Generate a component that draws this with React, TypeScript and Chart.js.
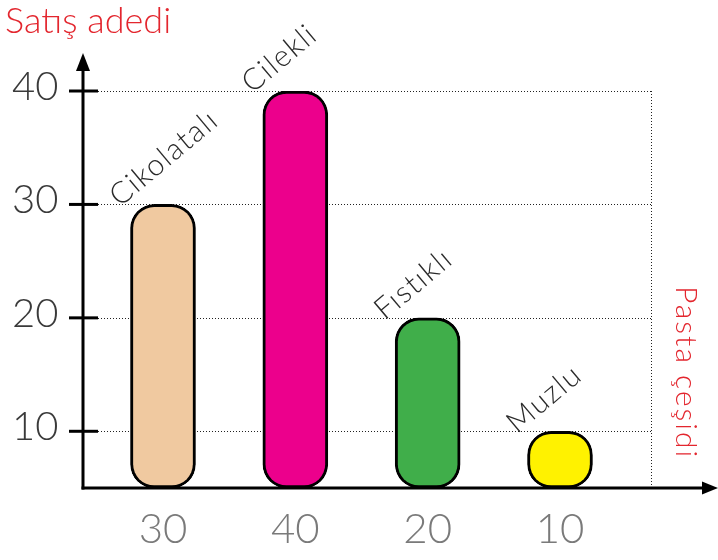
import React, { useEffect, useRef } from "react";
import { Chart, registerables } from "chart.js";

Chart.register(...registerables);

const categories = ["Cikolatalı", "Cilekli", "Fıstıklı", "Muzlu"];
const values = [30, 40, 20, 10];
const handLabels = ["30", "40", "20", "10"];
const barColors = ["#F0C9A0", "#EC008C", "#40AE4A", "#FFF200"];
const yTicks = [10, 20, 30, 40];
const yMin = 5;
const yMax = 40;
const yTitle = "Satış adedi";
const xTitle = "Pasta çeşidi";

const FONT = "Lato, 'Open Sans', sans-serif";
const RED = "#e3262e";

const drawPlugin = {
  id: "drawPlugin",
  beforeDatasetsDraw(chart: any) {
    const { ctx, chartArea, scales } = chart;
    const { left, right, bottom } = chartArea;
    ctx.save();
    ctx.strokeStyle = "#222";
    ctx.lineWidth = 1;
    ctx.setLineDash([1, 2]);
    yTicks.forEach((t) => {
      const y = Math.round(scales.y.getPixelForValue(t)) + 0.5;
      ctx.beginPath();
      ctx.moveTo(left + 15, y);
      ctx.lineTo(right, y);
      ctx.stroke();
    });
    ctx.beginPath();
    ctx.moveTo(right + 0.5, scales.y.getPixelForValue(yMax));
    ctx.lineTo(right + 0.5, bottom);
    ctx.stroke();
    ctx.restore();
  },
  afterDatasetsDraw(chart: any) {
    const { ctx, chartArea, scales } = chart;
    const { left, right, top, bottom } = chartArea;
    ctx.save();
    ctx.setLineDash([]);
    ctx.strokeStyle = "#000";
    ctx.fillStyle = "#000";
    ctx.lineWidth = 3;
    // y axis
    ctx.beginPath();
    ctx.moveTo(left, bottom + 1.5);
    ctx.lineTo(left, top - 24);
    ctx.stroke();
    ctx.beginPath();
    ctx.moveTo(left, top - 38);
    ctx.lineTo(left - 7, top - 20);
    ctx.lineTo(left + 7, top - 20);
    ctx.closePath();
    ctx.fill();
    // x axis
    ctx.beginPath();
    ctx.moveTo(left - 1.5, bottom);
    ctx.lineTo(right + 56, bottom);
    ctx.stroke();
    ctx.beginPath();
    ctx.moveTo(right + 67, bottom);
    ctx.lineTo(right + 51, bottom - 6.5);
    ctx.lineTo(right + 51, bottom + 6.5);
    ctx.closePath();
    ctx.fill();
    // tick marks + labels
    ctx.font = `300 40px ${FONT}`;
    ctx.textAlign = "left";
    ctx.textBaseline = "middle";
    yTicks.forEach((t) => {
      const y = scales.y.getPixelForValue(t);
      ctx.strokeStyle = "#000";
      ctx.beginPath();
      ctx.moveTo(left - 14, y);
      ctx.lineTo(left + 15, y);
      ctx.stroke();
      ctx.fillStyle = "#3a3a3a";
      ctx.fillText(String(t), 12, y - 4);
    });
    // bar names & hand labels
    const meta = chart.getDatasetMeta(0);
    meta.data.forEach((bar: any, i: number) => {
      ctx.save();
      ctx.translate(bar.x - 43, bar.y + 3);
      ctx.rotate((-40 * Math.PI) / 180);
      ctx.font = `300 30px ${FONT}`;
      (ctx as any).letterSpacing = "1.5px";
      ctx.fillStyle = "#2a2a2a";
      ctx.textAlign = "left";
      ctx.textBaseline = "alphabetic";
      ctx.fillText(categories[i], 0, 0);
      ctx.restore();

      ctx.save();
      ctx.font = `300 42px ${FONT}`;
      ctx.fillStyle = "#7a7a7a";
      ctx.textAlign = "center";
      ctx.textBaseline = "middle";
      ctx.fillText(handLabels[i], bar.x, bottom + 41);
      ctx.restore();
    });
    // titles
    ctx.fillStyle = RED;
    ctx.font = `300 36px ${FONT}`;
    ctx.textAlign = "left";
    ctx.textBaseline = "top";
    ctx.fillText(yTitle, 5, 3);
    ctx.save();
    ctx.translate(676, 286);
    ctx.rotate(Math.PI / 2);
    ctx.font = `300 30px ${FONT}`;
    (ctx as any).letterSpacing = "2px";
    ctx.textBaseline = "alphabetic";
    ctx.fillText(xTitle, 0, 0);
    ctx.restore();
    ctx.restore();
  },
};

export default function App() {
  const ref = useRef<HTMLCanvasElement>(null);
  useEffect(() => {
    if (!ref.current) return;
    const chart = new Chart(ref.current, {
      type: "bar",
      data: {
        datasets: [
          {
            data: categories.map((c, i) => ({ x: i, y: values[i] })),
            backgroundColor: barColors,
            borderColor: "#000",
            borderWidth: 3,
            borderRadius: 24,
            borderSkipped: false,
            barThickness: 65,
            base: yMin,
          } as any,
        ],
      },
      options: {
        responsive: false,
        animation: false,
        layout: { padding: { left: 83, right: 67, top: 91, bottom: 72 } },
        scales: {
          x: { type: "linear", display: false, offset: false, min: -0.6045, max: 3.6877 },
          y: { display: false, min: yMin, max: yMax },
        },
        plugins: { legend: { display: false }, tooltip: { enabled: false } },
      },
      plugins: [drawPlugin],
    });
    return () => chart.destroy();
  }, []);
  return (
    <div style={{ position: "absolute", left: 0, top: 0, width: 718, height: 560, background: "#fff" }}>
      <canvas ref={ref} width={718} height={560} />
    </div>
  );
}
